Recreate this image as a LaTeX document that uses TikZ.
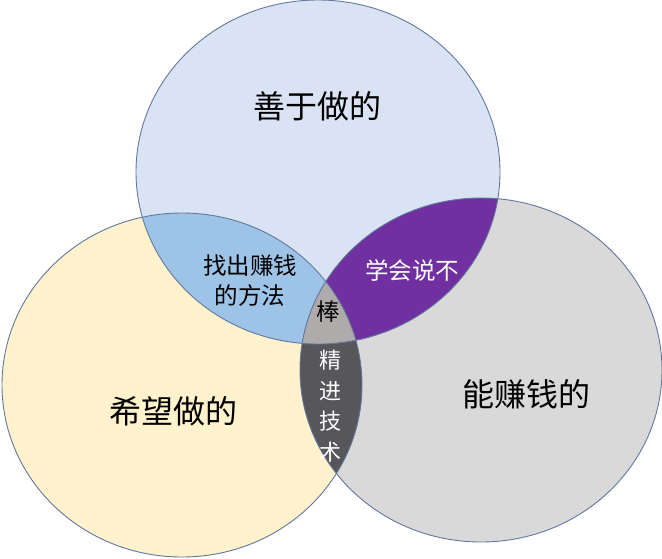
\documentclass[tikz,border=0pt]{standalone}
\usepackage{fontspec}
\newfontfamily\cjk{Noto Sans CJK SC}
\definecolor{topc}{HTML}{DAE3F3}
\definecolor{leftc}{HTML}{FFF2CC}
\definecolor{rightc}{HTML}{D9D9D9}
\definecolor{tlc}{HTML}{9DC3E6}
\definecolor{trc}{HTML}{7030A0}
\definecolor{lrc}{HTML}{56565B}
\definecolor{allc}{HTML}{AFABAB}
\definecolor{edge}{HTML}{62789E}
\begin{document}
\begin{tikzpicture}[x=1pt,y=-1pt,
  big/.style={font=\cjk\fontsize{32}{36}\selectfont, text=black},
  small/.style={font=\cjk\fontsize{23.5}{30}\selectfont, align=center, inner sep=0pt},
  ring/.style={draw=edge, line width=0.9pt}]
\useasboundingbox (0,0) rectangle (662,558);
\def\topE{(318,172) ellipse [x radius=182, y radius=172]}
\def\leftE{(182,385) ellipse [x radius=180, y radius=172]}
\def\rightE{(481,370) ellipse [x radius=181, y radius=172]}
\fill[topc] \topE;
\fill[leftc] \leftE;
\fill[rightc] \rightE;
\begin{scope}\clip \topE; \fill[tlc] \leftE; \end{scope}
\begin{scope}\clip \topE; \fill[trc] \rightE; \end{scope}
\begin{scope}\clip \leftE; \fill[lrc] \rightE; \end{scope}
\begin{scope}\clip \topE; \clip \leftE; \fill[allc] \rightE; \end{scope}
\draw[ring] \topE;
\draw[ring] \leftE;
\draw[ring] \rightE;
\node[big] (tlabel) at (317,106) {善于做的};
\node[big] (llabel) at (173,411) {希望做的};
\node[big] (rlabel) at (526,394) {能赚钱的};
\node[small] (tl) at (250,281) {找出赚钱\\的方法};
\node[small, text=white] (tr) at (412,270) {学会说不};
\node[small] (all) at (328,312) {棒};
\node[small, text=white, font=\cjk\fontsize{22}{30.5}\selectfont] (lr) at (330,406) {精\\进\\技\\术};
\end{tikzpicture}
\end{document}
